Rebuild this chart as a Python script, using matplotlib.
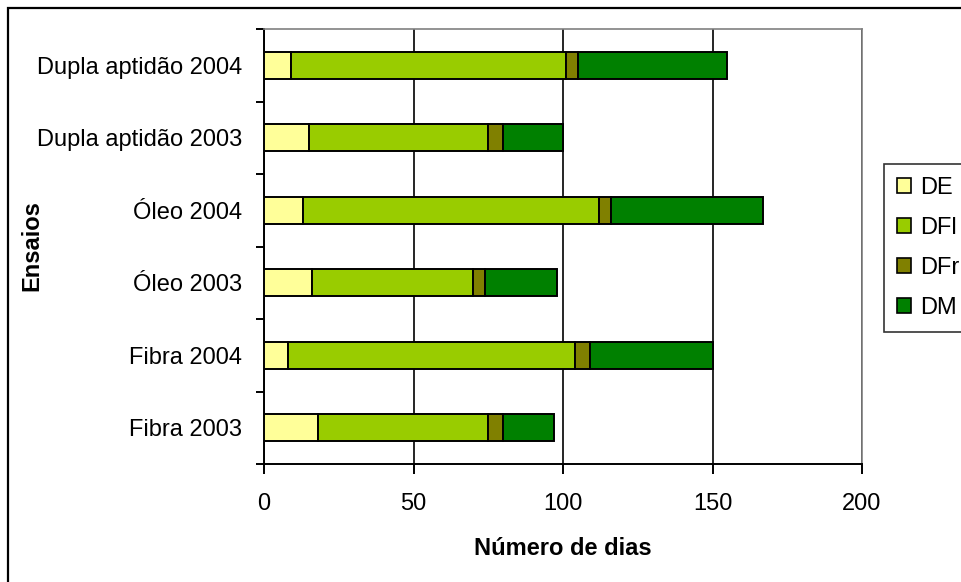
import matplotlib
matplotlib.use("Agg")
import matplotlib.pyplot as plt
import numpy as np
from matplotlib.patches import Rectangle, Patch

plt.rcParams['font.family'] = ['Liberation Sans', 'DejaVu Sans']

categories = ["Fibra 2003", "Fibra 2004", "Óleo 2003", "Óleo 2004",
              "Dupla aptidão 2003", "Dupla aptidão 2004"]
series_names = ["DE", "DFl", "DFr", "DM"]
de = [18, 8, 16, 13, 15, 9]
dfl = [57, 96, 54, 99, 60, 92]
dfr = [5, 5, 4, 4, 5, 4]
dm = [17, 41, 24, 51, 20, 50]
colors = ["#FFFF99", "#99CC00", "#808000", "#008000"]
x_ticks = [0, 50, 100, 150, 200]

FS = 17
W, H = 961, 582
fig = plt.figure(figsize=(W / 100, H / 100), dpi=100)

# outer chart frame
fig.patches.append(Rectangle((8 / W, -0.1), 1.2, 1 - 8 / H + 0.1,
                             transform=fig.transFigure, fill=False,
                             edgecolor="black", linewidth=1.6))

ax = fig.add_axes([264 / W, 1 - 464 / H, 598 / W, 435 / H])

y = np.arange(len(categories))
left = np.zeros(len(categories))
for name, vals, col in zip(series_names, [de, dfl, dfr, dm], colors):
    ax.barh(y, vals, left=left, height=0.37, color=col,
            edgecolor="black", linewidth=1.4, label=name, zorder=3)
    left += np.array(vals)

ax.set_xlim(0, 200)
ax.set_ylim(-0.5, len(categories) - 0.5)
ax.set_xticks(x_ticks)
ax.set_xticklabels([str(t) for t in x_ticks], fontsize=FS)
ax.set_yticks(y)
ax.set_yticklabels(categories, fontsize=FS)
ax.set_yticks(np.arange(-0.5, len(categories), 1.0), minor=True)
ax.tick_params(axis="y", which="major", length=0, pad=16)
ax.tick_params(axis="y", which="minor", length=6, width=1.4, direction="out")
ax.tick_params(axis="x", which="major", length=7, width=1.4, direction="out", pad=14)

ax.grid(axis="x", color="black", linewidth=1.2, zorder=0)
for s in ["top", "right"]:
    ax.spines[s].set_color("#808080")
    ax.spines[s].set_linewidth(1.2)
for s in ["left", "bottom"]:
    ax.spines[s].set_color("black")
    ax.spines[s].set_linewidth(1.4)

ax.set_xlabel("Número de dias", fontsize=FS, fontweight="bold", labelpad=16)
fig.text(32 / W, 1 - 246 / H, "Ensaios", rotation=90, fontsize=FS,
         fontweight="bold", ha="center", va="center")

handles = [Patch(facecolor=c, edgecolor="black", linewidth=1.2) for c in colors]
leg = fig.legend(handles, series_names, loc="upper left",
                 bbox_to_anchor=(884 / W, 1 - 164 / H), fontsize=FS,
                 frameon=True, fancybox=False, edgecolor="black",
                 handlelength=0.6, handleheight=0.6, handletextpad=0.38,
                 labelspacing=0.76, borderpad=0.55, borderaxespad=0)
leg.get_frame().set_linewidth(1.2)

fig.savefig("out.png", dpi=100)
